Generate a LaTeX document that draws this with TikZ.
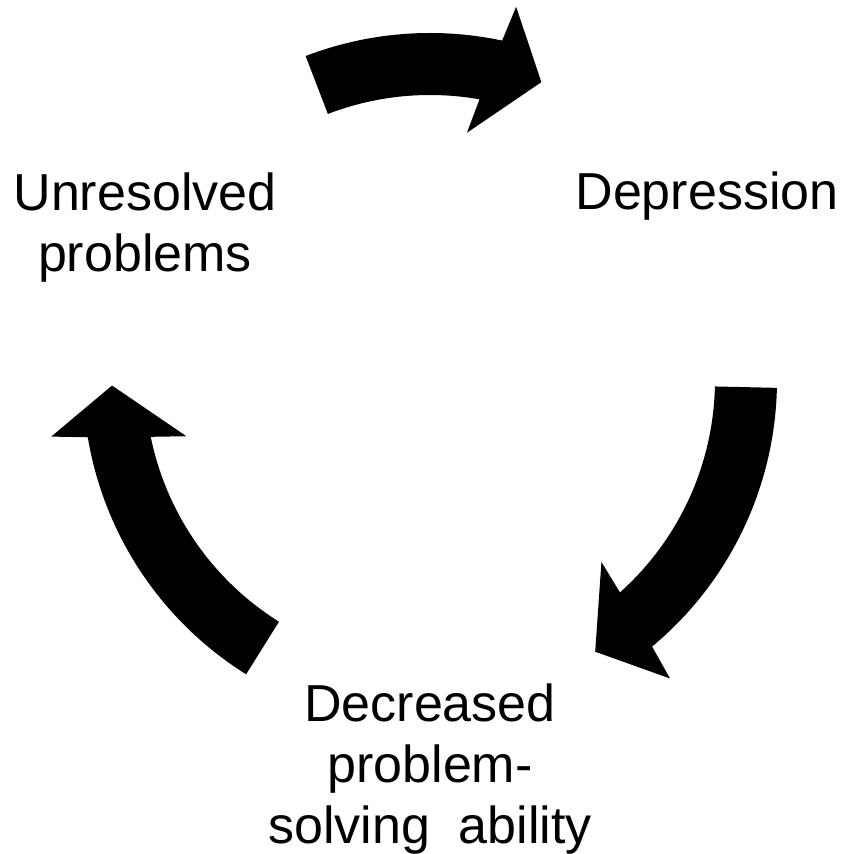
\documentclass[tikz,border=0pt]{standalone}
\usepackage{fontspec}
\setmainfont{Liberation Sans}
% radii of the cycle arrows
\def\rin{2.85}
\def\rout{3.47}
\def\rhin{2.50}
\def\rhout{3.83}
\def\rtip{3.18}
% block arrow running clockwise round (hub): #1 tail angle, #2 angle of the head base
\newcommand{\cycarrow}[2]{%
  \fill[shift={(hub)}] (#1:\rout) arc[start angle=#1, end angle=#2-1, radius=\rout]
    -- (#2-2:\rhout) -- (#2-9.5:\rtip) -- (#2+2.5:\rhin) -- (#2+1:\rin)
    arc[start angle=#2+1, end angle=#1, radius=\rin] -- cycle;}
\tikzset{phase/.style={anchor=north, inner sep=0pt, align=center, text=black,
    font=\fontsize{14.8}{17.4}\selectfont}}

\begin{document}
\begin{tikzpicture}
    \useasboundingbox (0,0) rectangle (8.45,8.54);
    \coordinate (hub) at (4.30,4.74);

    % the three stages
    \node[phase] (unres) at (1.45,6.82) {Unresolved\\problems};
    \node[phase] (depr) at (7.07,6.83) {Depression};
    \node[phase] (decr) at (4.30,1.71) {Decreased\\problem-\\solving\hspace{0.55em}ability};

    % arrows between the stages
    \cycarrow{111}{79}
    \cycarrow{-1.3}{-49.2}
    \cycarrow{238}{190.5}
\end{tikzpicture}
\end{document}
